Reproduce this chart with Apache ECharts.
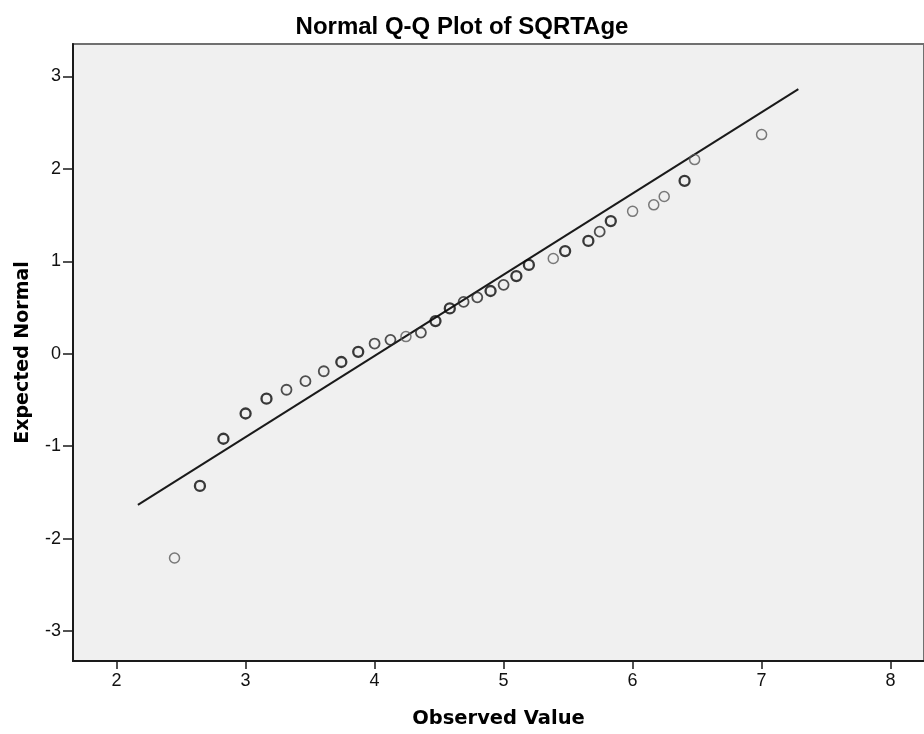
<!DOCTYPE html>
<html>
<head>
<meta charset="utf-8">
<script src="https://cdn.jsdelivr.net/npm/echarts@6/dist/echarts.min.js"></script>
<style>
  html, body { margin: 0; padding: 0; background: #ffffff; }
  #chart { width: 924px; height: 734px; }
</style>
</head>
<body>
<div id="chart"></div>
<script>
// ---- data ----
const chartTitle = 'Normal Q-Q Plot of SQRTAge';
const xAxisTitle = 'Observed Value';
const yAxisTitle = 'Expected Normal';
const xTickValues = [2, 3, 4, 5, 6, 7, 8];
const yTickValues = [-3, -2, -1, 0, 1, 2, 3];

// points drawn with a heavy outline (tied cases)
const heavyObserved = [2.646, 2.828, 3.000, 3.162, 3.742, 3.873, 4.472, 4.583, 4.899, 5.099, 5.196, 5.477, 5.657, 5.831, 6.403];
const heavyExpected = [-1.43, -0.92, -0.647, -0.486, -0.09, 0.02, 0.353, 0.49, 0.678, 0.84, 0.96, 1.11, 1.22, 1.435, 1.87];
// points drawn with a medium outline
const mediumObserved = [3.317, 3.464, 3.606, 4.000, 4.123, 4.359, 4.690, 4.796, 5.000, 5.745];
const mediumExpected = [-0.39, -0.297, -0.19, 0.11, 0.15, 0.228, 0.56, 0.61, 0.745, 1.32];
// points drawn with a light outline
const lightObserved = [2.449, 4.243, 5.385, 6.000, 6.164, 6.245, 6.481, 7.000];
const lightExpected = [-2.21, 0.185, 1.03, 1.54, 1.61, 1.70, 2.10, 2.37];

// reference line endpoints
const lineObserved = [2.165, 7.285];
const lineExpected = [-1.635, 2.862];

function pairs(xs, ys) { return xs.map((x, i) => [x, ys[i]]); }

const chart = echarts.init(document.getElementById('chart'), null, { renderer: 'canvas' });

const titleFont = 'DejaVu Sans';
const tickFont = 'Liberation Sans';
const option = {
  animation: false,
  backgroundColor: '#ffffff',
  title: {
    text: chartTitle,
    left: 'center',
    top: 10,
    textStyle: { fontFamily: 'Liberation Sans', fontWeight: 'bold', fontSize: 24, color: '#000' }
  },
  grid: {
    left: 73, top: 44, right: -2, bottom: 67,
    show: true,
    backgroundColor: '#f0f0f0',
    borderColor: '#707070',
    borderWidth: 2
  },
  xAxis: {
    type: 'value',
    min: 1.662, max: 8.259,
    splitLine: { show: false },
    axisLine: { show: true, onZero: false, lineStyle: { color: '#1a1a1a', width: 2 } },
    axisTick: { show: true, length: 8, customValues: xTickValues, lineStyle: { color: '#1a1a1a', width: 1.5 } },
    axisLabel: { customValues: xTickValues, margin: 11, fontFamily: tickFont, fontSize: 18, color: '#111' },
    name: xAxisTitle,
    nameLocation: 'middle',
    nameGap: 48,
    nameTextStyle: { fontFamily: titleFont, fontWeight: 'bold', fontSize: 19.5, color: '#000' }
  },
  yAxis: {
    type: 'value',
    min: -3.324, max: 3.35,
    splitLine: { show: false },
    axisLine: { show: true, onZero: false, lineStyle: { color: '#1a1a1a', width: 2 } },
    axisTick: { show: true, length: 10, customValues: yTickValues, lineStyle: { color: '#1a1a1a', width: 1.5 } },
    axisLabel: { customValues: yTickValues, margin: 12, fontFamily: tickFont, fontSize: 18, color: '#111' },
    name: yAxisTitle,
    nameLocation: 'middle',
    nameGap: 40,
    nameTextStyle: { fontFamily: titleFont, fontWeight: 'bold', fontSize: 19, color: '#000' }
  },
  series: [
    {
      type: 'line',
      data: pairs(lineObserved, lineExpected),
      showSymbol: false,
      symbol: 'none',
      lineStyle: { color: '#1a1a1a', width: 2 },
      z: 2
    },
    {
      type: 'scatter',
      data: pairs(lightObserved, lightExpected),
      symbol: 'circle',
      symbolSize: 10,
      itemStyle: { color: 'rgba(0,0,0,0)', borderColor: '#5a5a5a', borderWidth: 1.5 },
      z: 3
    },
    {
      type: 'scatter',
      data: pairs(mediumObserved, mediumExpected),
      symbol: 'circle',
      symbolSize: 10,
      itemStyle: { color: 'rgba(0,0,0,0)', borderColor: '#262626', borderWidth: 1.8 },
      z: 3
    },
    {
      type: 'scatter',
      data: pairs(heavyObserved, heavyExpected),
      symbol: 'circle',
      symbolSize: 10,
      itemStyle: { color: 'rgba(0,0,0,0)', borderColor: '#0a0a0a', borderWidth: 2.3 },
      z: 3
    }
  ]
};
chart.setOption(option);
</script>
</body>
</html>
